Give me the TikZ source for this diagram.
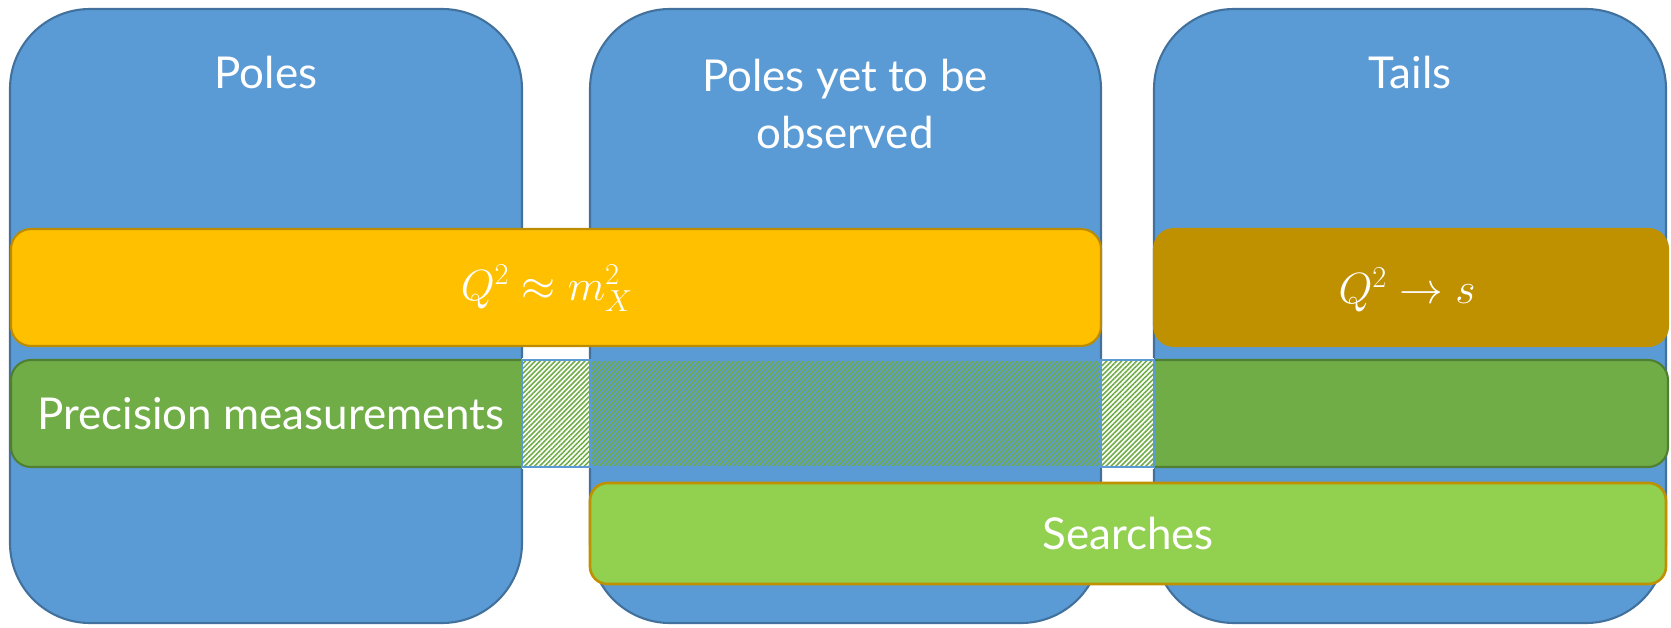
\documentclass[tikz,border=0pt]{standalone}
\usepackage{fontspec}
\setmainfont{Lato}
\usetikzlibrary{patterns.meta}
\definecolor{colfill}{HTML}{5B9BD5}
\definecolor{coledge}{HTML}{41719C}
\definecolor{yelfill}{HTML}{FFC000}
\definecolor{yeledge}{HTML}{BC8C00}
\definecolor{tanfill}{HTML}{BF9000}
\definecolor{grnfill}{HTML}{70AD47}
\definecolor{grnedge}{HTML}{507E32}
\definecolor{srcfill}{HTML}{92D050}
\definecolor{srcedge}{HTML}{BF9000}
\tikzset{
  column/.style={fill=colfill,draw=coledge,line width=1.2pt,rounded corners=1.6cm},
  yelbar/.style={fill=yelfill,draw=yeledge,line width=1.2pt,rounded corners=0.4cm},
  tanbar/.style={fill=tanfill,draw=tanfill,line width=1.2pt,rounded corners=0.4cm},
  grnbar/.style={fill=grnfill,draw=grnedge,line width=1.2pt,rounded corners=0.4cm},
  srcbar/.style={fill=srcfill,draw=srcedge,line width=1.5pt,rounded corners=0.35cm},
  title/.style={text=white,font=\fontsize{25}{33}\selectfont,align=center},
  mathlbl/.style={text=white,font=\fontsize{27}{31}\selectfont},
}
\begin{document}
\begin{tikzpicture}[x=0.02cm,y=-0.02cm]
\useasboundingbox (0,0) rectangle (1671,628);
% columns
\draw[column] (10,9) rectangle (522,623);
\draw[column] (590,9) rectangle (1101,623);
\draw[column] (1154,9) rectangle (1666,623);
\node[title] (t1) at (266,73) {Poles};
\node[title] (t2) at (845,104) {Poles yet to be\\observed};
\node[title] (t3) at (1410,73) {Tails};
% yellow / tan bars
\draw[yelbar] (11,229) rectangle (1101,346);
\node[mathlbl] (m1) at (547,288) {$Q^2\approx m_X^2$};
\draw[tanbar] (1154,229) rectangle (1668,346);
\node[mathlbl] (m2) at (1407,290) {$Q^2\to s$};
% green bar
\draw[grnbar] (11,360) rectangle (1668,467);
\fill[white] (522,358) rectangle (1154,469);
\fill[colfill] (590,358) rectangle (1101,469);
\draw[coledge,line width=1.2pt] (590,358) -- (590,469) (1101,358) -- (1101,469);
\fill[pattern={Lines[angle=45,distance=2pt,line width=0.9pt]},pattern color=grnfill] (522,360) rectangle (1154,467);
\draw[colfill,line width=1pt] (522,360) rectangle (1154,467);
\draw[colfill,line width=1pt] (590,360) -- (590,467) (1101,360) -- (1101,467);
\node[title] (pm) at (271,414) {Precision measurements};
% searches
\draw[srcbar] (590,483) rectangle (1666,584);
\node[title] (s) at (1128,533) {Searches};
\end{tikzpicture}
\end{document}
